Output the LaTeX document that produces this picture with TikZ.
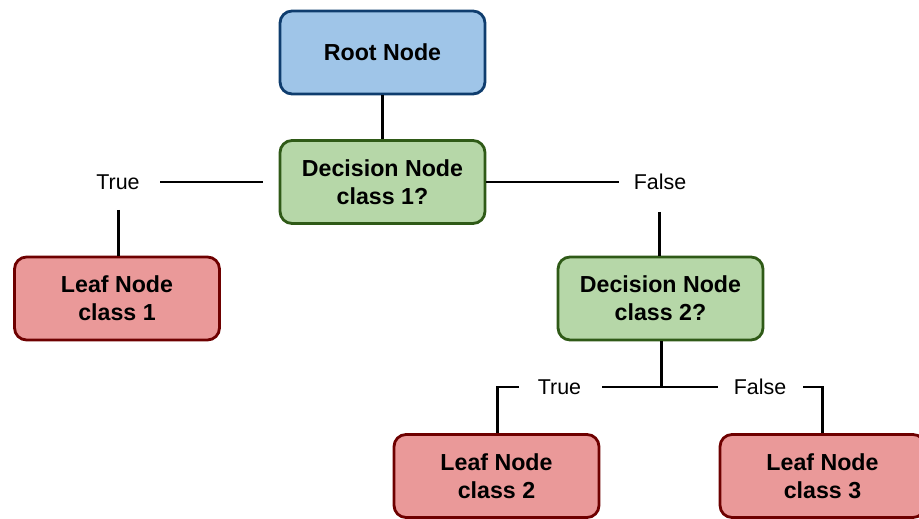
\documentclass[tikz,border=0pt]{standalone}
\usepackage{fontspec}
\setmainfont{Liberation Sans}
\definecolor{bluefill}{HTML}{9FC5E8}
\definecolor{blueline}{HTML}{0F3D6E}
\definecolor{greenfill}{HTML}{B6D7A8}
\definecolor{greenline}{HTML}{2F5A17}
\definecolor{redfill}{HTML}{EA9999}
\definecolor{redline}{HTML}{6E0000}
\tikzset{
  box/.style={rectangle, rounded corners=0.24cm, line width=1.6pt, align=center,
    font=\fontsize{13.2}{16}\selectfont\bfseries, inner sep=0pt,
    minimum width=4.1cm, minimum height=1.66cm},
  rootbox/.style={box, fill=bluefill, draw=blueline},
  decbox/.style={box, fill=greenfill, draw=greenline},
  leafbox/.style={box, fill=redfill, draw=redline},
  lbl/.style={font=\fontsize{12.2}{14}\selectfont, inner sep=0pt},
  conn/.style={line width=1.7pt, black}
}
\begin{document}
\begin{tikzpicture}[x=0.02cm, y=-0.02cm]
\useasboundingbox (0,0) rectangle (919,519);
\node[rootbox] (root) at (382.5,52.5) {Root Node};
\node[decbox] (dec1) at (382.5,182) {Decision Node\\class 1?};
\node[leafbox] (leaf1) at (117,298.5) {Leaf Node\\class 1};
\node[decbox] (dec2) at (660.5,298.5) {Decision Node\\class 2?};
\node[leafbox] (leaf2) at (496.5,476) {Leaf Node\\class 2};
\node[leafbox] (leaf3) at (822.5,476) {Leaf Node\\class 3};

\node[lbl] (t1) at (118,182) {True};
\node[lbl] (f1) at (660,182) {False};
\node[lbl] (t2) at (559.5,387) {True};
\node[lbl] (f2) at (760,387) {False};

\coordinate (t1r) at (160,182);
\coordinate (t1l) at (263,182);
\coordinate (t1d) at (118.5,210);
\coordinate (f1l) at (619,182);
\coordinate (f1d) at (659,212);
\coordinate (j2) at (661,387);
\coordinate (h2l) at (602,387);
\coordinate (h2r) at (718,387);
\coordinate (b2a) at (519,387);
\coordinate (b2b) at (497,387);
\coordinate (b3a) at (803,387);
\coordinate (b3b) at (822,387);

\draw[conn] (root.south) -- (dec1.north);
\draw[conn] (t1r) -- (t1l);
\draw[conn] (t1d) -- (t1d |- leaf1.north);
\draw[conn] (dec1.east) -- (f1l);
\draw[conn] (f1d) -- (f1d |- dec2.north);
\draw[conn] (j2 |- dec2.south) -- (j2);
\draw[conn] (h2l) -- (h2r);
\draw[conn] (b2a) -- (b2b) -- (b2b |- leaf2.north);
\draw[conn] (b3a) -- (b3b) -- (b3b |- leaf3.north);
\end{tikzpicture}
\end{document}
